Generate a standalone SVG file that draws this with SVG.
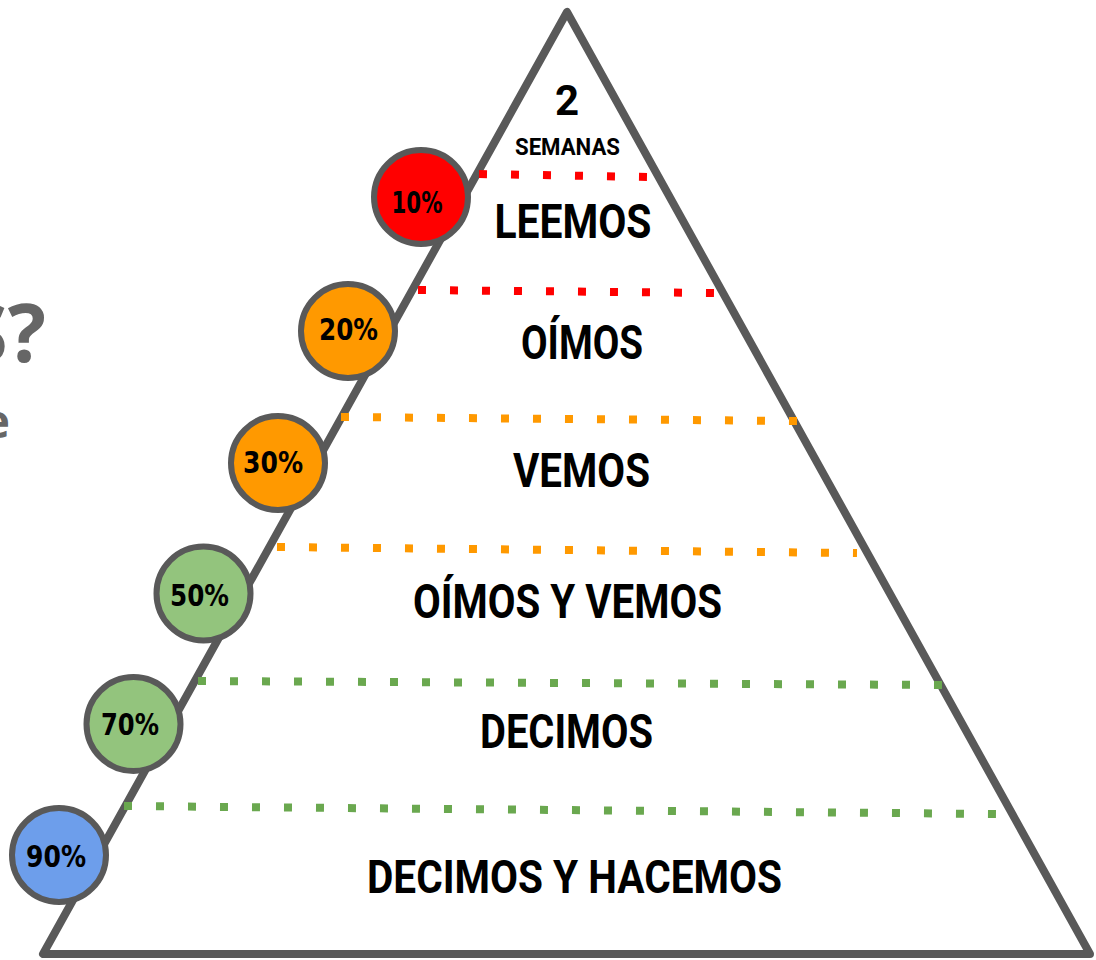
<svg xmlns="http://www.w3.org/2000/svg" width="1096" height="960" viewBox="0 0 1096 960">
<style>
.lbl{font-family:Roboto,"Liberation Sans",sans-serif;font-weight:700;fill:#000;text-anchor:middle}
.pct{font-family:"DejaVu Sans","Liberation Sans",sans-serif;font-weight:700;font-size:30px;fill:#000;text-anchor:middle}
.circ{stroke:#595959;stroke-width:6}
.dot{stroke-width:8;stroke-dasharray:8 24;fill:none}
.bg{font-family:"Open Sans","Liberation Sans",sans-serif;font-weight:700;fill:#666;text-anchor:end}
</style>
<rect width="1096" height="960" fill="#fff"/>
<text class="bg" x="46" y="362" font-size="80">S?</text>
<text class="bg" x="10" y="438" font-size="46">e</text>
<g id="pyramid">
<polygon points="567,12 43,954 1090,954" fill="#fff" stroke="#595959" stroke-width="8" stroke-linejoin="round"/>
</g>
<g id="connectors">
<line class="dot" stroke="#ff0000" x1="479" y1="174" x2="650" y2="177"/>
<line class="dot" stroke="#ff0000" x1="418" y1="290" x2="716" y2="293"/>
<line class="dot" stroke="#ff9900" x1="341" y1="417" x2="798" y2="421"/>
<line class="dot" stroke="#ff9900" x1="277" y1="547" x2="857" y2="553"/>
<line class="dot" stroke="#6aa84f" x1="198" y1="681" x2="942" y2="685"/>
<line class="dot" stroke="#6aa84f" x1="124" y1="806" x2="996" y2="814"/>
</g>
<g id="top">
<text class="lbl" x="567" y="115" font-size="42">2</text>
<text class="lbl" x="567.5" y="155" font-size="24" textLength="105" lengthAdjust="spacingAndGlyphs">SEMANAS</text>
</g>
<g id="level-leemos"><text class="lbl" x="573" y="238" font-size="48" textLength="157" lengthAdjust="spacingAndGlyphs">LEEMOS</text></g>
<g id="level-oimos"><text class="lbl" x="582" y="359" font-size="48" textLength="122" lengthAdjust="spacingAndGlyphs">OÍMOS</text></g>
<g id="level-vemos"><text class="lbl" x="581.5" y="487" font-size="48" textLength="137" lengthAdjust="spacingAndGlyphs">VEMOS</text></g>
<g id="level-oimos-vemos"><text class="lbl" x="567.5" y="618" font-size="48" textLength="309" lengthAdjust="spacingAndGlyphs">OÍMOS Y VEMOS</text></g>
<g id="level-decimos"><text class="lbl" x="566.5" y="748" font-size="48" textLength="173" lengthAdjust="spacingAndGlyphs">DECIMOS</text></g>
<g id="level-decimos-hacemos"><text class="lbl" x="574.5" y="893" font-size="46" textLength="415" lengthAdjust="spacingAndGlyphs">DECIMOS Y HACEMOS</text></g>
<g id="p10"><circle class="circ" cx="421" cy="197" r="47" fill="#ff0000"/><text class="pct" x="417" y="213" textLength="51" lengthAdjust="spacingAndGlyphs">10%</text></g>
<g id="p20"><circle class="circ" cx="348" cy="331" r="47" fill="#ff9900"/><text class="pct" x="348.5" y="340" textLength="59" lengthAdjust="spacingAndGlyphs">20%</text></g>
<g id="p30"><circle class="circ" cx="278" cy="463" r="47" fill="#ff9900"/><text class="pct" x="273" y="473" textLength="60" lengthAdjust="spacingAndGlyphs">30%</text></g>
<g id="p50"><circle class="circ" cx="203.5" cy="593.5" r="47" fill="#93c47d"/><text class="pct" x="199.5" y="606" textLength="59" lengthAdjust="spacingAndGlyphs">50%</text></g>
<g id="p70"><circle class="circ" cx="133.5" cy="724" r="47" fill="#93c47d"/><text class="pct" x="130" y="735" textLength="58" lengthAdjust="spacingAndGlyphs">70%</text></g>
<g id="p90"><circle class="circ" cx="59" cy="855" r="47" fill="#6d9eeb"/><text class="pct" x="56" y="867" textLength="60" lengthAdjust="spacingAndGlyphs">90%</text></g>
</svg>
